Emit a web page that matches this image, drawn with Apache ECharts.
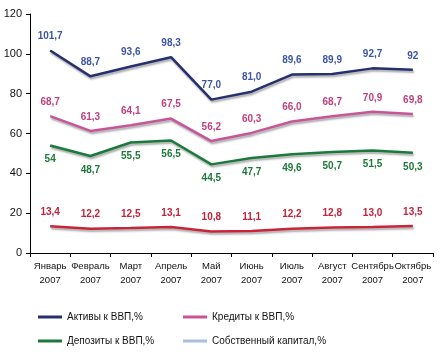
<!DOCTYPE html>
<html><head><meta charset="utf-8">
<script src="https://cdn.jsdelivr.net/npm/echarts@6/dist/echarts.min.js"></script>
<style>html,body{margin:0;padding:0;background:#fff}#c{width:443px;height:355px}</style>
</head><body><div id="c"></div>
<script>
const categories = ['Январь\n2007','Февраль\n2007','Март\n2007','Апрель\n2007','Май\n2007','Июнь\n2007','Июль\n2007','Август\n2007','Сентябрь\n2007','Октябрь\n2007'];
const assets = [101.7, 88.7, 93.6, 98.3, 77.0, 81.0, 89.6, 89.9, 92.7, 92];
const assetsLabels = ['101,7','88,7','93,6','98,3','77,0','81,0','89,6','89,9','92,7','92'];
const credits = [68.7, 61.3, 64.1, 67.5, 56.2, 60.3, 66.0, 68.7, 70.9, 69.8];
const creditsLabels = ['68,7','61,3','64,1','67,5','56,2','60,3','66,0','68,7','70,9','69,8'];
const deposits = [54, 48.7, 55.5, 56.5, 44.5, 47.7, 49.6, 50.7, 51.5, 50.3];
const depositsLabels = ['54','48,7','55,5','56,5','44,5','47,7','49,6','50,7','51,5','50,3'];
const capital = [13.4, 12.2, 12.5, 13.1, 10.8, 11.1, 12.2, 12.8, 13.0, 13.5];
const capitalLabels = ['13,4','12,2','12,5','13,1','10,8','11,1','12,2','12,8','13,0','13,5'];
const yTicks = [0, 20, 40, 60, 80, 100, 120];

const FONT = '"Liberation Sans Narrow", "Liberation Sans", Arial, sans-serif';
function mk(name, data, labels, lineColor, labelColor, pos) {
  return {
    name, type: 'line', data, symbol: 'circle', symbolSize: 4, showSymbol: true,
    lineStyle: { color: lineColor, width: 2.5, shadowColor: 'rgba(0,0,0,0.35)', shadowBlur: 2, shadowOffsetY: 2, shadowOffsetX: 1 },
    itemStyle: { color: 'rgba(255,255,255,0)', borderWidth: 0 },
    label: { show: true, position: pos, distance: 7, color: labelColor, fontFamily: FONT, fontWeight: 'bold', fontSize: 10,
      formatter: function (p) { return labels[p.dataIndex]; } },
    animation: false
  };
}
function lg(name, left, top, color) {
  return { data: [{ name, icon: 'rect', itemStyle: { color: color, opacity: 1 }, lineStyle: { color: color } }], left, top, itemWidth: 24, itemHeight: 3,
    padding: 0, textStyle: { fontFamily: FONT, fontSize: 10, color: '#111' }, selectedMode: false };
}
const chart = echarts.init(document.getElementById('c'), null, { renderer: 'canvas' });
chart.setOption({
  animation: false,
  grid: { left: 30, right: 10, top: 14, bottom: 102 },
  xAxis: { type: 'category', data: categories, boundaryGap: true,
    axisLine: { lineStyle: { color: '#000', width: 1 } },
    axisTick: { show: true, length: 4, lineStyle: { color: '#000' }, inside: false },
    axisLabel: { color: '#111', fontFamily: FONT, fontSize: 9.5, lineHeight: 14, margin: 6, interval: 0 } },
  yAxis: { type: 'value', min: 0, max: 120, interval: 20,
    axisLine: { show: true, lineStyle: { color: '#000' } },
    axisTick: { show: true, length: 4, lineStyle: { color: '#000' } },
    splitLine: { show: false },
    axisLabel: { color: '#111', fontFamily: FONT, fontSize: 11, margin: 8,
      formatter: v => yTicks.includes(v) ? String(v) : '' } },
  legend: [
    lg('Активы к ВВП,%', 38, 312, '#26306e'),
    lg('Кредиты к ВВП,%', 183, 312, '#c8559a'),
    lg('Депозиты к ВВП,%', 38, 336, '#1a7a3c'),
    lg('Собственный капитал,%', 183, 336, '#a8bfdf')
  ],
  series: [
    mk('Активы к ВВП,%', assets, assetsLabels, '#26306e', '#3c55a5', 'top'),
    mk('Кредиты к ВВП,%', credits, creditsLabels, '#c8559a', '#c0407f', 'top'),
    mk('Депозиты к ВВП,%', deposits, depositsLabels, '#1a7a3c', '#1e7a3a', 'bottom'),
    mk('Собственный капитал,%', capital, capitalLabels, '#c8243a', '#c4223a', 'top')
  ]
});
</script></body></html>
